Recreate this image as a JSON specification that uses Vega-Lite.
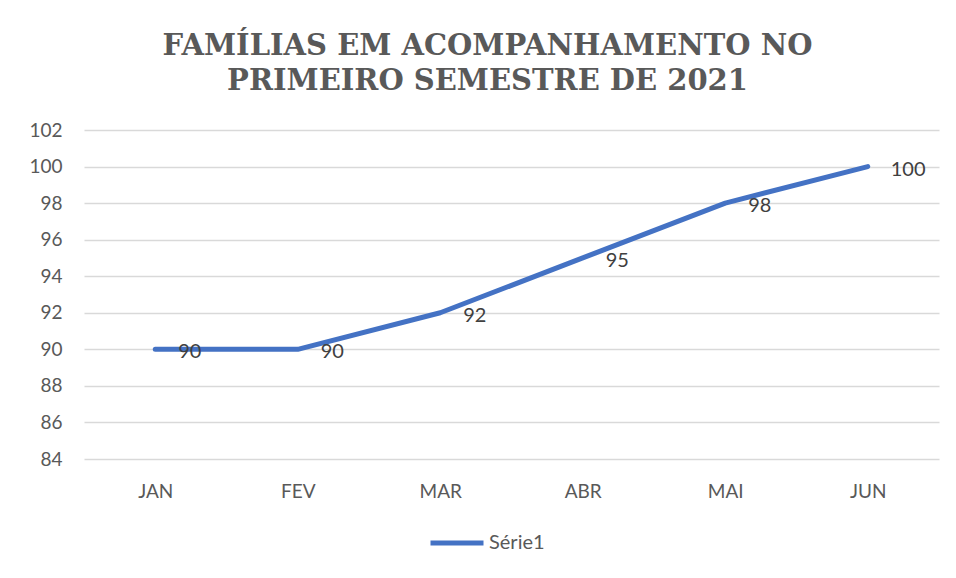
{
  "$schema": "https://vega.github.io/schema/vega-lite/v6.json",
  "autosize": "none",
  "width": 855,
  "height": 329,
  "padding": {"left": 84, "top": 130, "right": 17, "bottom": 119},
  "background": "white",
  "title": {
    "text": ["FAMÍLIAS EM ACOMPANHAMENTO NO", "PRIMEIRO SEMESTRE DE 2021"],
    "font": "DejaVu Serif",
    "fontSize": 29,
    "fontWeight": "bold",
    "color": "#595959",
    "lineHeight": 35,
    "anchor": "middle",
    "frame": "group",
    "offset": 25,
    "dx": -24
  },
  "data": {
    "values": [
      {"mes": "JAN", "valor": 90, "serie": "Série1"},
      {"mes": "FEV", "valor": 90, "serie": "Série1"},
      {"mes": "MAR", "valor": 92, "serie": "Série1"},
      {"mes": "ABR", "valor": 95, "serie": "Série1"},
      {"mes": "MAI", "valor": 98, "serie": "Série1"},
      {"mes": "JUN", "valor": 100, "serie": "Série1"}
    ]
  },
  "encoding": {
    "x": {
      "field": "mes",
      "type": "ordinal",
      "sort": null,
      "scale": {"type": "point", "padding": 0.5},
      "axis": {
        "title": null,
        "labelAngle": 0,
        "domain": false,
        "ticks": false,
        "grid": false,
        "labelFont": "Lato",
        "labelFontSize": 19,
        "labelColor": "#595959",
        "labelPadding": 23
      }
    },
    "y": {
      "field": "valor",
      "type": "quantitative",
      "scale": {"domain": [84, 102], "nice": false, "zero": false},
      "axis": {
        "title": null,
        "values": [84, 86, 88, 90, 92, 94, 96, 98, 100, 102],
        "domain": false,
        "ticks": false,
        "grid": true,
        "gridColor": "#d9d9d9",
        "gridWidth": 1.3,
        "labelFont": "Lato",
        "labelFontSize": 19,
        "labelColor": "#595959",
        "labelPadding": 22
      }
    }
  },
  "layer": [
    {
      "mark": {"type": "line", "strokeWidth": 5, "strokeCap": "round", "strokeJoin": "round"},
      "encoding": {
        "color": {
          "field": "serie",
          "type": "nominal",
          "scale": {"range": ["#4472C4"]},
          "legend": {
            "title": null,
            "orient": "none",
            "legendX": 344,
            "legendY": 384,
            "direction": "horizontal",
            "symbolType": "stroke",
            "symbolSize": 2809,
            "symbolStrokeWidth": 5,
            "labelFont": "Lato",
            "labelFontSize": 20,
            "labelColor": "#595959",
            "labelOffset": 3
          }
        }
      }
    },
    {
      "mark": {"type": "text", "align": "left", "baseline": "middle", "dx": 23, "dy": 3, "font": "Lato", "fontSize": 20, "color": "#404040"},
      "encoding": {
        "text": {"field": "valor", "type": "quantitative"}
      }
    }
  ],
  "config": {"view": {"stroke": null}}
}
